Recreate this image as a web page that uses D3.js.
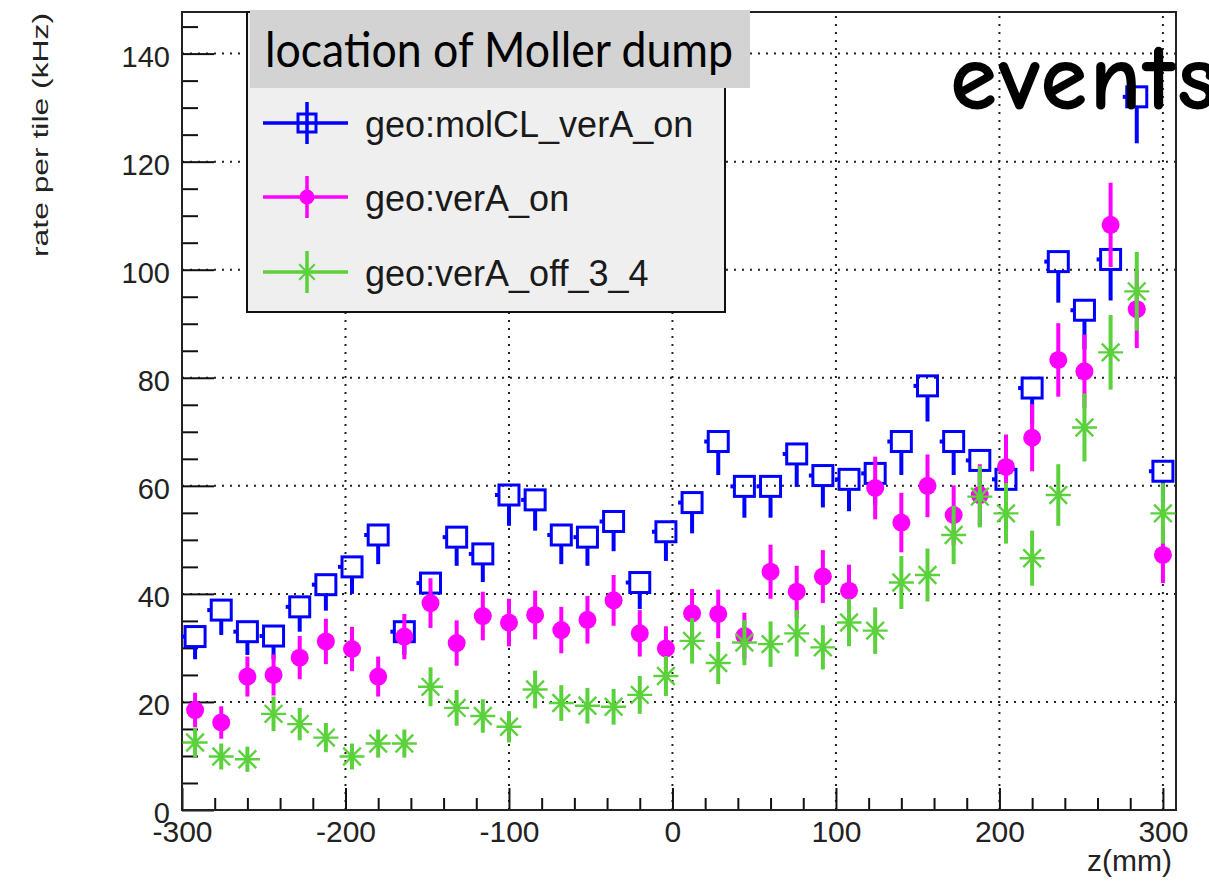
<!DOCTYPE html>
<html>
<head>
<meta charset="utf-8">
<script src="https://cdn.jsdelivr.net/npm/d3@7"></script>
<style>
  html, body { margin: 0; padding: 0; background: #fff; }
  svg { display: block; }
</style>
</head>
<body>
<svg id="chart" width="1209" height="884"></svg>
<script>
// ---- data ----
const zCenters = [-292, -276, -260, -244, -228, -212, -196, -180, -164, -148, -132, -116, -100, -84, -68, -52, -36, -20, -4,
  12, 28, 44, 60, 76, 92, 108, 124, 140, 156, 172, 188, 204, 220, 236, 252, 268, 284, 300];

const molCLVals = [32.1, 37.0, 33.0, 32.2, 37.6, 41.7, 45.0, 50.9, 33.0, 42.0, 50.5, 47.4, 58.3, 57.4, 50.9, 50.5, 53.4, 42.1, 51.5,
  56.9, 68.2, 59.9, 59.9, 65.9, 61.9, 61.2, 62.3, 68.2, 78.5, 68.2, 64.7, 61.2, 78.1, 101.5, 92.5, 101.9, 132.0, 62.7];
const molCLErrs = [4.2, 4.6, 4.3, 4.3, 4.6, 4.8, 5.0, 5.4, 4.3, 4.9, 5.3, 5.2, 5.7, 5.7, 5.4, 5.3, 5.5, 4.9, 5.4,
  5.7, 6.2, 5.8, 5.8, 6.1, 5.9, 5.9, 5.9, 6.2, 6.6, 6.2, 6.0, 5.9, 6.6, 7.6, 7.2, 7.6, 8.6, 5.9];

const verAOnVals = [18.5, 16.2, 24.7, 25.0, 28.2, 31.2, 29.8, 24.7, 32.1, 38.3, 30.9, 35.9, 34.7, 36.1, 33.3, 35.2, 38.8, 32.7, 29.9,
  36.4, 36.3, 32.2, 44.1, 40.4, 43.2, 40.6, 59.6, 53.2, 60.0, 54.6, 58.3, 63.5, 68.9, 83.3, 81.2, 108.3, 92.7, 47.2];
const verAOnErrs = [3.2, 3.0, 3.7, 3.8, 4.0, 4.2, 4.1, 3.7, 4.2, 4.6, 4.2, 4.5, 4.4, 4.5, 4.3, 4.4, 4.7, 4.3, 4.1,
  4.5, 4.5, 4.3, 5.0, 4.8, 4.9, 4.8, 5.8, 5.5, 5.8, 5.5, 5.7, 6.0, 6.2, 6.8, 6.8, 7.8, 7.2, 5.2];

const verAOffVals = [12.5, 9.9, 9.4, 17.8, 15.9, 13.4, 9.9, 12.3, 12.3, 22.8, 18.9, 17.4, 15.4, 22.3, 19.8, 19.3, 19.1, 21.3, 24.8,
  31.3, 27.2, 31.0, 30.7, 32.7, 30.1, 34.7, 33.2, 42.1, 43.5, 50.9, 58.0, 54.9, 46.6, 58.3, 70.8, 84.7, 96.0, 54.9];
const verAOffErrs = [2.7, 2.4, 2.3, 3.2, 3.0, 2.7, 2.4, 2.6, 2.6, 3.6, 3.3, 3.1, 2.9, 3.5, 3.3, 3.3, 3.3, 3.5, 3.7,
  4.2, 3.9, 4.2, 4.2, 4.3, 4.1, 4.4, 4.3, 4.9, 4.9, 5.4, 5.7, 5.6, 5.1, 5.7, 6.3, 6.9, 7.3, 5.6];

const seriesNames = ["geo:molCL_verA_on", "geo:verA_on", "geo:verA_off_3_4"];
const seriesColors = ["#0000ff", "#ff00ff", "#5bd13c"];
const xMajorTicks = [-300, -200, -100, 0, 100, 200, 300];
const yMajorTicks = [0, 20, 40, 60, 80, 100, 120, 140];
const legendTitle = "location of Moller dump";
const xTitle = "z(mm)";
const yTitle = "rate per tile (kHz)";
const overlayText = "events";

// ---- layout ----
const svg = d3.select("#chart");
svg.append("rect").attr("width", 1209).attr("height", 884).attr("fill", "#fff");

const L = 182, R = 1176, T = 12, B = 810;
const x = d3.scaleLinear().domain([-300, 308]).range([L, R]);
const y = d3.scaleLinear().domain([0, 147.7]).range([B, T]);

const xMinor = d3.range(-300, 309, 20).filter(v => v % 100 !== 0);
const yMinor = d3.range(0, 147, 5).filter(v => v % 20 !== 0);

// grid
const grid = svg.append("g").attr("stroke", "#222").attr("stroke-width", 2).attr("stroke-dasharray", "2,6");
grid.selectAll("line.vg").data(xMajorTicks).join("line")
  .attr("x1", d => x(d)).attr("x2", d => x(d)).attr("y1", B).attr("y2", T);
grid.selectAll("line.hg").data(yMajorTicks.filter(d => d > 0)).join("line")
  .attr("x1", L).attr("x2", R).attr("y1", d => y(d)).attr("y2", d => y(d));

// axes
const tickFont = "'Liberation Sans', Arial, Helvetica, sans-serif";
const xAxisG = svg.append("g").attr("transform", `translate(0,${B})`)
  .call(d3.axisBottom(x).tickValues(xMajorTicks).tickSize(-22).tickSizeOuter(0).tickPadding(11).tickFormat(d => String(d)));
const xMinorG = svg.append("g").attr("transform", `translate(0,${B})`)
  .call(d3.axisBottom(x).tickValues(xMinor).tickSize(-12).tickSizeOuter(0).tickFormat(""));
const yAxisG = svg.append("g").attr("transform", `translate(${L},0)`)
  .call(d3.axisLeft(y).tickValues(yMajorTicks).tickSize(-32).tickSizeOuter(0).tickPadding(12).tickFormat(d => String(d)));
const yMinorG = svg.append("g").attr("transform", `translate(${L},0)`)
  .call(d3.axisLeft(y).tickValues(yMinor).tickSize(-16).tickSizeOuter(0).tickFormat(""));

[xAxisG, xMinorG, yAxisG, yMinorG].forEach(g => {
  g.select(".domain").remove();
  g.selectAll(".tick line").attr("stroke", "#111").attr("stroke-width", 2);
  g.selectAll("text").attr("fill", "#222").attr("font-family", tickFont);
});
xAxisG.selectAll("text").attr("font-size", 30);
yAxisG.selectAll("text").attr("font-size", 29).attr("dy", "0.43em");

// frame
svg.append("rect").attr("x", L).attr("y", T).attr("width", R - L).attr("height", B - T)
  .attr("fill", "none").attr("stroke", "#222").attr("stroke-width", 2);

// titles
svg.append("text").attr("x", 1172).attr("y", 871).attr("text-anchor", "end")
  .attr("font-family", tickFont).attr("font-size", 30).attr("fill", "#222").text(xTitle);
svg.append("text").attr("transform", "translate(48,13) rotate(-90)").attr("text-anchor", "end")
  .attr("font-family", tickFont).attr("font-size", 22).attr("fill", "#222")
  .attr("textLength", 244).attr("lengthAdjust", "spacingAndGlyphs").text(yTitle);

// ---- data marks ----
function mkData(vals, errs) {
  return zCenters.map((z, i) => ({ z, v: vals[i], e: errs[i] }));
}
const plot = svg.append("g");

// series 1: open squares
const s1 = plot.append("g");
const d1 = mkData(molCLVals, molCLErrs);
const half = 11;
s1.selectAll("line.up").data(d1).join("line")
  .attr("x1", d => x(d.z)).attr("x2", d => x(d.z))
  .attr("y1", d => y(d.v + d.e)).attr("y2", d => Math.min(y(d.v + d.e), y(d.v) - half))
  .attr("stroke", seriesColors[0]).attr("stroke-width", 4);
s1.selectAll("line.dn").data(d1).join("line")
  .attr("x1", d => x(d.z)).attr("x2", d => x(d.z))
  .attr("y1", d => y(d.v) + half).attr("y2", d => Math.max(y(d.v - d.e), y(d.v) + half))
  .attr("stroke", seriesColors[0]).attr("stroke-width", 4);
s1.selectAll("line.stub").data(d1).join("line")
  .attr("x1", d => x(d.z) - 14).attr("x2", d => x(d.z) - 10)
  .attr("y1", d => y(d.v)).attr("y2", d => y(d.v))
  .attr("stroke", seriesColors[0]).attr("stroke-width", 4);
s1.selectAll("rect").data(d1).join("rect")
  .attr("x", d => x(d.z) - 10).attr("y", d => y(d.v) - 10)
  .attr("width", 20).attr("height", 20)
  .attr("fill", "none").attr("stroke", seriesColors[0]).attr("stroke-width", 3);

// series 2: filled circles
const s2 = plot.append("g");
const d2 = mkData(verAOnVals, verAOnErrs);
s2.selectAll("line").data(d2).join("line")
  .attr("x1", d => x(d.z)).attr("x2", d => x(d.z))
  .attr("y1", d => y(d.v + d.e)).attr("y2", d => y(d.v - d.e))
  .attr("stroke", seriesColors[1]).attr("stroke-width", 4);
s2.selectAll("circle").data(d2).join("circle")
  .attr("cx", d => x(d.z)).attr("cy", d => y(d.v)).attr("r", 9)
  .attr("fill", seriesColors[1]);

// series 3: asterisks
const s3 = plot.append("g");
const d3d = mkData(verAOffVals, verAOffErrs);
s3.selectAll("line.err").data(d3d).join("line")
  .attr("x1", d => x(d.z)).attr("x2", d => x(d.z))
  .attr("y1", d => y(d.v + d.e)).attr("y2", d => y(d.v - d.e))
  .attr("stroke", seriesColors[2]).attr("stroke-width", 4);
function starPath(r) {
  const a = r * Math.SQRT1_2;
  return `M${-r},0L${r},0M0,${-r}L0,${r}M${-a},${-a}L${a},${a}M${-a},${a}L${a},${-a}`;
}
s3.selectAll("path").data(d3d).join("path")
  .attr("transform", d => `translate(${x(d.z)},${y(d.v)})`)
  .attr("d", starPath(12.5)).attr("fill", "none")
  .attr("stroke", seriesColors[2]).attr("stroke-width", 2.4);
s3.selectAll("circle").data(d3d).join("circle")
  .attr("cx", d => x(d.z)).attr("cy", d => y(d.v)).attr("r", 3)
  .attr("fill", seriesColors[2]);

// ---- legend ----
const lg = svg.append("g");
lg.append("rect").attr("x", 247).attr("y", 12).attr("width", 478).attr("height", 300)
  .attr("fill", "#efefef").attr("stroke", "#111").attr("stroke-width", 2);
lg.append("rect").attr("x", 250).attr("y", 10).attr("width", 500).attr("height", 78)
  .attr("fill", "#d3d3d3");
lg.append("text").attr("x", 265).attr("y", 67)
  .attr("font-family", "Lato, 'Open Sans', sans-serif").attr("font-size", 48).attr("fill", "#000")
  .attr("textLength", 468).attr("lengthAdjust", "spacingAndGlyphs").text(legendTitle);

const rowsY = [123, 197, 272];
seriesNames.forEach((name, i) => {
  const cy = rowsY[i], cx = 307, col = seriesColors[i];
  const g = lg.append("g");
  g.append("line").attr("x1", 263).attr("x2", 348).attr("y1", cy).attr("y2", cy)
    .attr("stroke", col).attr("stroke-width", 3.5);
  g.append("line").attr("x1", cx).attr("x2", cx).attr("y1", cy - 21).attr("y2", cy + 21)
    .attr("stroke", col).attr("stroke-width", 3.5);
  if (i === 0) {
    g.append("rect").attr("x", cx - 9).attr("y", cy - 9).attr("width", 18).attr("height", 18)
      .attr("fill", "none").attr("stroke", col).attr("stroke-width", 3);
  } else if (i === 1) {
    g.append("circle").attr("cx", cx).attr("cy", cy).attr("r", 7.5).attr("fill", col);
  } else {
    g.append("path").attr("transform", `translate(${cx},${cy})`).attr("d", starPath(11))
      .attr("fill", "none").attr("stroke", col).attr("stroke-width", 2.2);
  }
  g.append("text").attr("x", 365).attr("y", cy + 14)
    .attr("font-family", tickFont).attr("font-size", 36).attr("fill", "#1a1a1a").text(name);
});

// overlay annotation
svg.append("text").attr("x", 950).attr("y", 109)
  .attr("font-family", "'Comic Sans MS', 'Comic Neue', 'DejaVu Sans', sans-serif")
  .attr("font-weight", 700).attr("font-size", 96).attr("letter-spacing", 2)
  .attr("fill", "#000").text(overlayText);
</script>
</body>
</html>
